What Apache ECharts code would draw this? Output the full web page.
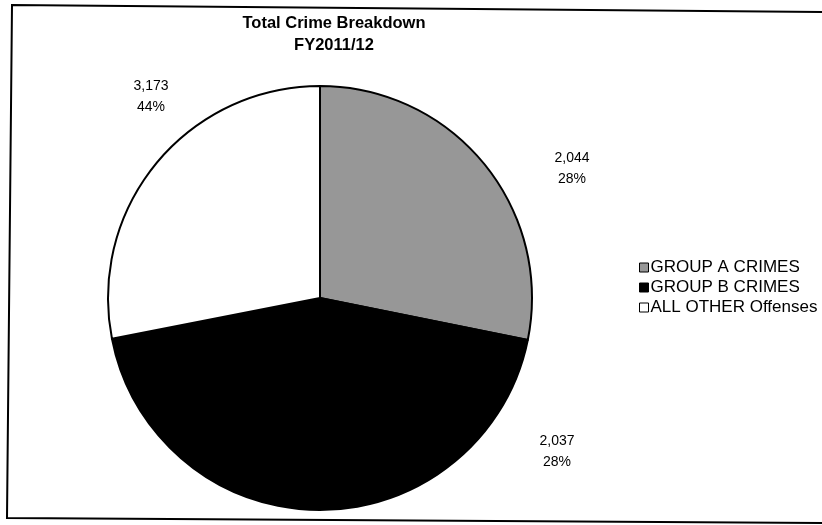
<!DOCTYPE html>
<html>
<head>
<meta charset="utf-8">
<script src="https://cdn.jsdelivr.net/npm/echarts@6/dist/echarts.min.js"></script>
<style>
html,body{margin:0;padding:0;background:#fff;}
#chart{width:822px;height:525px;}
</style>
</head>
<body>
<div id="chart"></div>
<script>
// Data
const categories = ['GROUP A CRIMES', 'GROUP B CRIMES', 'ALL OTHER Offenses'];
const values = [2044, 3173, 2037];
const titleLines = ['Total Crime Breakdown', 'FY2011/12'];

// Styling / layout (kept separate from data)
const sliceColors = ['#979797', '#000000', '#ffffff'];
const labelSpots = [[572, 169], [151, 97], [557, 452]];
const FONT = "'Liberation Sans', Arial, sans-serif";

const chart = echarts.init(document.getElementById('chart'), null, {renderer: 'canvas'});

const fmt = v => v.toLocaleString('en-US');

chart.setOption({
  animation: false,
  backgroundColor: '#ffffff',
  title: {
    text: titleLines.join('\n'),
    left: 329,
    top: 7,
    textAlign: 'center',
    textStyle: {fontFamily: FONT, fontWeight: 'bold', fontSize: 16.5, lineHeight: 22, color: '#000'}
  },
  legend: {
    orient: 'vertical',
    left: 634,
    top: 254,
    itemGap: 3,
    itemWidth: 9,
    itemHeight: 9,
    icon: 'rect',
    data: categories,
    itemStyle: {borderColor: '#000', borderWidth: 1},
    textStyle: {fontFamily: FONT, fontSize: 17, color: '#000', padding: [0, 0, 0, -3]}
  },
  graphic: [{
    type: 'polyline',
    shape: {points: [[826, 12], [12, 5], [7, 518], [826, 523]]},
    style: {stroke: '#000', lineWidth: 2, fill: null},
    silent: true
  }],
  series: [{
    type: 'pie',
    center: [320, 298],
    radius: 212,
    startAngle: 90,
    clockwise: true,
    avoidLabelOverlap: false,
    itemStyle: {borderColor: '#000', borderWidth: 2},
    label: {
      show: true,
      position: 'outside',
      formatter: p => fmt(p.value) + '\n' + Math.round(p.percent) + '%',
      fontFamily: FONT,
      fontSize: 14,
      lineHeight: 21,
      color: '#000',
      align: 'center'
    },
    labelLine: {show: false},
    labelLayout: p => ({
      x: labelSpots[p.dataIndex][0],
      y: labelSpots[p.dataIndex][1],
      align: 'center',
      verticalAlign: 'middle'
    }),
    emphasis: {disabled: true},
    data: categories.map((c, i) => ({
      name: c,
      value: values[i],
      itemStyle: {color: sliceColors[i]}
    }))
  }]
});
</script>
</body>
</html>
